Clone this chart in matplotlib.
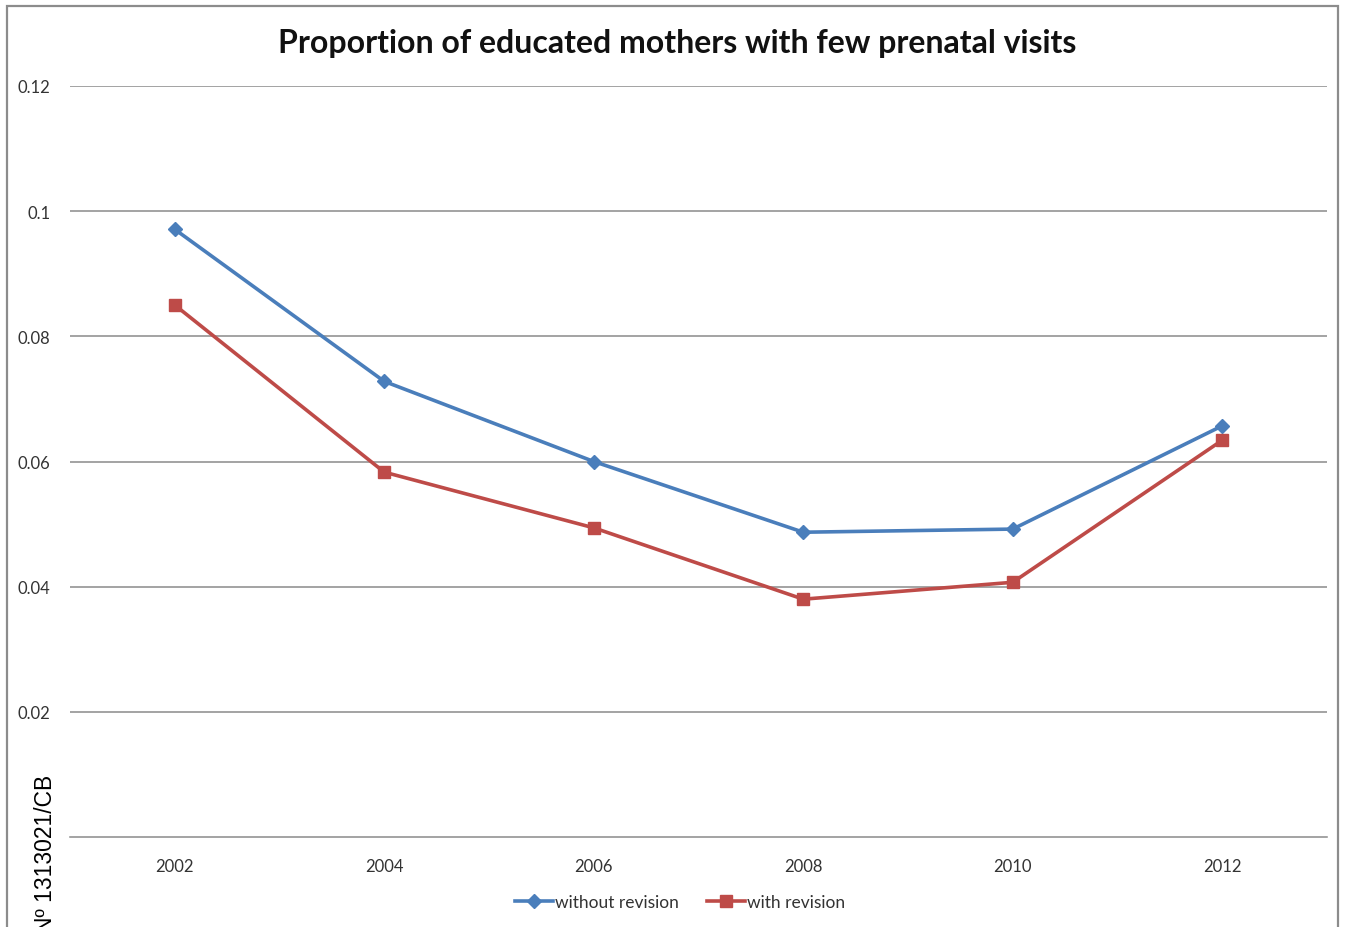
import matplotlib.pyplot as plt
from matplotlib.patches import Rectangle

years = ['2002', '2004', '2006', '2008', '2010', '2012']
without_revision = [0.0971, 0.0728, 0.0600, 0.0487, 0.0492, 0.0657]
with_revision = [0.0850, 0.0583, 0.0494, 0.0380, 0.0407, 0.0634]
yticks = [0.02, 0.04, 0.06, 0.08, 0.1, 0.12]
ytick_labels = ['0.02', '0.04', '0.06', '0.08', '0.1', '0.12']

plt.rcParams['font.family'] = ['Lato', 'DejaVu Sans']

fig = plt.figure(figsize=(13.48, 9.28), dpi=100)
W, H = 1348, 928
ax = fig.add_axes([70 / W, 1 - 838 / H, (1327 - 70) / W, (838 - 87) / H])

x = list(range(len(years)))
ax.plot(x, without_revision, color='#4A7EBB', linewidth=2.6, marker='D',
        markersize=7, label='without revision')
ax.plot(x, with_revision, color='#BE4B48', linewidth=2.6, marker='s',
        markersize=8.5, label='with revision')

ax.set_xlim(-0.5, len(years) - 0.5)
ax.set_ylim(0, 0.12)
ax.set_xticks(x)
ax.set_xticklabels(years)
ax.set_yticks(yticks)
ax.set_yticklabels(ytick_labels)
ax.yaxis.grid(True, color='#8a8a8a', linewidth=1.1)
ax.set_axisbelow(True)

for side in ['top', 'right', 'left']:
    ax.spines[side].set_visible(False)
ax.spines['bottom'].set_color('#8a8a8a')
ax.spines['bottom'].set_linewidth(1.1)

ax.tick_params(axis='y', length=0, pad=14, labelsize=12, labelcolor='#333333')
ax.tick_params(axis='x', length=0, pad=15, labelsize=12, labelcolor='#333333')

fig.text(677 / W, 1 - 44 / H, 'Proportion of educated mothers with few prenatal visits',
         ha='center', va='center', fontsize=23, fontweight='bold', color='#111111')

fig.legend(loc='center', bbox_to_anchor=(680 / W, 1 - 903 / H), ncol=2, frameon=False,
           fontsize=12.5, handlelength=2.2, handletextpad=0.1, columnspacing=1.6,
           labelcolor='#333333')

# chart frame
fig.add_artist(Rectangle((7 / W, -0.05), (1338 - 7) / W, 1.05 - 7 / H,
                         transform=fig.transFigure, fill=False,
                         edgecolor='#8c8c8c', linewidth=1.6))

fig.text(46 / W, 1 - 775 / H, 'Nº 1313021/CB', rotation=90, ha='center', va='top',
         fontsize=16.5, family='Liberation Sans', color='black')

fig.savefig('out.png', dpi=100)
